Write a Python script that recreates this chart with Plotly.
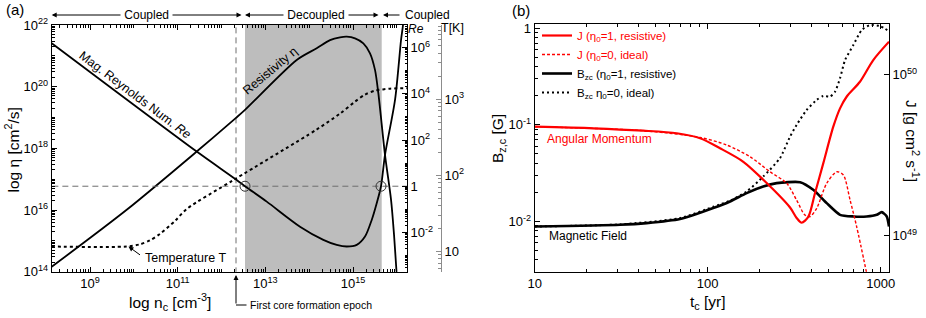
import numpy as np
import plotly.graph_objects as go

# ---------------- Panel (a): values read as log10 ----------------
eta_log_nc = [8.126, 9.837, 11.434, 12.331, 12.536, 13.716, 14.172, 14.476, 14.704, 14.857,
              15.046, 15.236, 15.388, 15.502, 15.578, 15.730, 15.868, 15.936, 15.993, 16.027]
eta_log_eta = [14.16, 16.008, 17.896, 18.988, 19.247, 20.866, 21.245, 21.51, 21.60, 21.622,
               21.569, 21.407, 21.083, 20.543, 19.788, 17.789, 16.332, 15.198, 14.0, 13.42]

re_log_nc = [8.126, 11.434, 12.347, 12.536, 13.032, 13.791, 14.323, 14.629, 14.857, 15.085,
             15.274, 15.427, 15.541, 15.639, 15.730, 15.959, 16.096, 16.141, 16.164]
re_log_re = [6.19, 1.50, 0.27, 0.0, -0.667, -1.75, -2.32, -2.54, -2.61, -2.54,
             -2.18, -1.46, -0.736, 0.0, 1.355, 3.736, 6.33, 6.98, 7.63]

temp_log_nc = [8.126, 9.837, 10.141, 10.369, 10.597, 10.939, 11.206, 12.269, 14.172, 14.704,
               15.046, 15.274, 15.502, 15.845, 16.232]
temp_log_T = [1.063, 1.063, 1.092, 1.144, 1.229, 1.399, 1.556, 1.935, 2.601, 2.810,
              2.967, 3.059, 3.111, 3.137, 3.144]

epoch_log_nc = 12.331
decoupled_log_nc = [12.536, 15.655]
re_unity_log_nc = [12.536, 15.639]

# ---------------- Panel (b): values read as log10 ----------------
b_res_log_t = [1.0, 1.493, 1.647, 1.840, 2.032, 2.129, 2.225, 2.321, 2.399, 2.534, 2.610,
               2.688, 2.765, 2.842, 2.919, 2.977, 3.006, 3.035, 3.048]
b_res_log_b = [-2.052, -2.034, -2.017, -1.975, -1.861, -1.793, -1.706, -1.638, -1.603, -1.593,
               -1.672, -1.810, -1.931, -1.948, -1.948, -1.931, -1.903, -1.948, -2.052]

b_ide_log_t = [1.0, 1.493, 1.840, 2.032, 2.129, 2.225, 2.321, 2.418, 2.476, 2.514, 2.572,
               2.630, 2.668, 2.707, 2.736, 2.765, 2.794, 2.842, 2.890, 2.938, 2.996, 3.048]
b_ide_log_b = [-2.052, -2.030, -1.965, -1.848, -1.785, -1.690, -1.535, -1.344, -1.121, -1.0,
               -0.845, -0.741, -0.700, -0.707, -0.656, -0.517, -0.328, -0.173, -0.018, 0.034,
               0.024, -0.03]

j_res_log_t = [1.0, 1.339, 1.628, 1.821, 1.956, 2.071, 2.206, 2.341, 2.476, 2.514, 2.543,
               2.582, 2.620, 2.668, 2.726, 2.765, 2.803, 2.880, 2.957, 3.048]
j_res_log_j = [49.676, 49.666, 49.651, 49.635, 49.604, 49.542, 49.458, 49.326, 49.174, 49.109,
               49.079, 49.117, 49.262, 49.448, 49.676, 49.790, 49.862, 49.955, 50.090, 50.204]

j_ide_log_t = [1.0, 1.628, 1.956, 2.110, 2.245, 2.360, 2.457, 2.514, 2.562, 2.591, 2.630,
               2.688, 2.746, 2.784, 2.823, 2.861, 2.919]
j_ide_log_j = [49.676, 49.651, 49.609, 49.562, 49.489, 49.396, 49.324, 49.220, 49.127, 49.117,
               49.169, 49.324, 49.396, 49.376, 49.220, 49.055, 48.765]

# tick label exponents
nc_label_exp = [9, 11, 13, 15]
eta_label_exp = [14, 16, 18, 20, 22]
re_label_exp = [-2, 0, 2, 4, 6]
temp_label_exp = [1, 2, 3]

# ---------------- helpers ----------------
W, H = 926, 318
FONT = "Liberation Sans, Arial, Helvetica, sans-serif"


def px(x):
    return x / W


def py(y):
    return 1 - y / H


def p10(k):
    if k == 0:
        return "1"
    if k == 1:
        return "10"
    return "10<sup>%d</sup>" % k


def lin(v):
    return [10.0 ** a for a in v]


def minor_vals(lo, hi, skip=()):
    vals = [m * 10.0 ** k for k in range(lo, hi) for m in range(2, 10)]
    vals += [10.0 ** k for k in range(lo, hi + 1) if k not in skip]
    return vals


def axis_common(**kw):
    d = dict(showline=True, linecolor="black", linewidth=1, ticks="inside", ticklen=5,
             tickcolor="black", showgrid=False, zeroline=False, automargin=False,
             tickfont=dict(size=13, color="black"))
    d.update(kw)
    return d


fig = go.Figure()

# ---------- panel (a) ----------
a0, a1 = decoupled_log_nc
fig.add_trace(go.Scatter(x=[10.0 ** a0, 10.0 ** a1, 10.0 ** a1, 10.0 ** a0, 10.0 ** a0],
                         y=[1e12, 1e12, 1e24, 1e24, 1e12], fill="toself",
                         fillcolor="#bdbdbd", line=dict(width=0), mode="lines",
                         xaxis="x", yaxis="y", showlegend=False, hoverinfo="skip"))
fig.add_trace(go.Scatter(x=[10.0 ** epoch_log_nc] * 2, y=[1e12, 1e24], mode="lines",
                         line=dict(color="#6e6e6e", width=1, dash="6px,4px"),
                         xaxis="x", yaxis="y", showlegend=False))
fig.add_trace(go.Scatter(x=lin(eta_log_nc), y=lin(eta_log_eta), mode="lines",
                         line=dict(color="black", width=1.8, shape="spline", smoothing=0.8),
                         xaxis="x", yaxis="y", showlegend=False))
fig.add_trace(go.Scatter(x=[1e7, 1e17], y=[1.0, 1.0], mode="lines",
                         line=dict(color="#6e6e6e", width=1, dash="6px,4px"),
                         xaxis="x", yaxis="y2", showlegend=False))
fig.add_trace(go.Scatter(x=lin(re_log_nc), y=lin(re_log_re), mode="lines",
                         line=dict(color="black", width=1.8, shape="spline", smoothing=0.8),
                         xaxis="x", yaxis="y2", showlegend=False))
fig.add_trace(go.Scatter(x=lin(re_unity_log_nc), y=[1.0, 1.0], mode="markers",
                         marker=dict(symbol="circle-open", size=10, color="#333333",
                                     line=dict(width=1)),
                         xaxis="x", yaxis="y2", showlegend=False))
fig.add_trace(go.Scatter(x=lin(temp_log_nc), y=lin(temp_log_T), mode="lines",
                         line=dict(color="black", width=2, dash="dot", shape="spline",
                                   smoothing=0.8),
                         xaxis="x", yaxis="y3", showlegend=False))

# ---------- panel (b) ----------
fig.add_trace(go.Scatter(x=lin(j_res_log_t), y=lin(j_res_log_j), mode="lines",
                         name='<span style="color:#ff0000">J (η<sub>0</sub>=1, resistive)</span>',
                         line=dict(color="#ff0000", width=2.2, shape="spline", smoothing=0.8),
                         xaxis="x2", yaxis="y5"))
fig.add_trace(go.Scatter(x=lin(j_ide_log_t), y=lin(j_ide_log_j), mode="lines",
                         name='<span style="color:#ff0000">J (η<sub>0</sub>=0, ideal)</span>',
                         line=dict(color="#ff0000", width=1.4, dash="3px,2px", shape="spline",
                                   smoothing=0.8),
                         xaxis="x2", yaxis="y5"))
fig.add_trace(go.Scatter(x=lin(b_res_log_t), y=lin(b_res_log_b), mode="lines",
                         name="B<sub>zc</sub> (η<sub>0</sub>=1, resistive)",
                         line=dict(color="black", width=2.6, shape="spline", smoothing=0.6),
                         xaxis="x2", yaxis="y4"))
fig.add_trace(go.Scatter(x=lin(b_ide_log_t), y=lin(b_ide_log_b), mode="lines",
                         name="B<sub>zc</sub> η<sub>0</sub>=0, ideal)",
                         line=dict(color="black", width=2, dash="2px,3px", shape="spline",
                                   smoothing=0.6),
                         xaxis="x2", yaxis="y4"))

# ---------- annotations ----------
ann = []


def text(x, y, s, size=12, color="black", xanchor="center", angle=0, bg=None):
    d = dict(x=px(x), y=py(y), xref="paper", yref="paper", text=s, showarrow=False,
             xanchor=xanchor, yanchor="middle", textangle=angle,
             font=dict(size=size, color=color, family=FONT))
    if bg:
        d["bgcolor"] = bg
        d["borderpad"] = 0
    ann.append(d)


def arrow(xh, yh, xt, yt, side="end"):
    ann.append(dict(x=px(xh), y=py(yh), xref="paper", yref="paper", text="",
                    showarrow=True, axref="pixel", ayref="pixel", ax=xt - xh, ay=yt - yh,
                    arrowhead=2, arrowsize=1, arrowwidth=1, arrowcolor="black",
                    arrowside=side, standoff=0, startstandoff=0))


# top regime arrows
arrow(51.7, 15, 243, 15, side="end+start")
text(146, 15, " Coupled ", bg="white")
arrow(245, 15, 380, 15, side="end+start")
text(316, 15, " Decoupled ", bg="white")
arrow(383, 15, 401, 15)
text(403, 15, "Coupled", xanchor="left")

text(15, 10, "(a)", size=15)
text(521, 11, "(b)", size=15)

text(135, 95, "Mag. Reynolds Num. <i>Re</i>", size=12.5, angle=37)
text(270, 71, "Resistivity η", size=12.5, angle=-40)
text(185, 258, "Temperature T", size=12.5)
arrow(128.5, 246.5, 141.5, 256)

# first core epoch
arrow(236, 275, 236, 305)
text(248, 305, "First core formation epoch", size=10.5, xanchor="left")

# right-axis labels panel (a)
text(416, 29, "<i>Re</i>", size=12)
text(452, 28, "T[K]", size=12.5)

# axis titles
text(12.5, 150, "log η [cm<sup>2</sup>/s]", size=15.5, angle=-90)
text(170, 302, "log n<sub>c</sub> [cm<sup>-3</sup>]", size=15.5)
text(498, 138, "B<sub>z,c</sub> [G]", size=15.5, angle=-90)
text(912, 141, "J [g cm<sup>2</sup> s<sup>-1</sup>]", size=15.5, angle=90)
text(708, 302, "t<sub>c</sub> [yr]", size=15.5)

text(545, 139, "Angular Momentum", size=12, color="#ff0000", xanchor="left")
text(547, 236, "Magnetic Field", size=12, xanchor="left")

shapes = [dict(type="line", xref="paper", yref="paper", x0=px(236), x1=px(246.5),
               y0=py(305), y1=py(305), line=dict(color="black", width=1))]

dom_ax = [px(51.7), px(407)]
dom_ay = [py(271.7), py(25)]
dom_bx = [px(534.7), px(889)]
dom_by = [py(271.7), py(24)]

fig.update_layout(
    width=W, height=H, margin=dict(l=0, r=0, t=0, b=0, pad=0, autoexpand=False),
    paper_bgcolor="white", plot_bgcolor="white",
    font=dict(family=FONT, size=12, color="black"),
    xaxis=axis_common(type="log", range=[8.126, 16.232], domain=dom_ax, anchor="y",
                      mirror="ticks",
                      tickvals=[10.0 ** k for k in nc_label_exp],
                      ticktext=[p10(k) for k in nc_label_exp],
                      minor=dict(ticks="inside", ticklen=3, tickcolor="black",
                                 tickvals=minor_vals(8, 17, nc_label_exp))),
    yaxis=axis_common(type="log", range=[14, 22], domain=dom_ay, anchor="x",
                      tickvals=[10.0 ** k for k in eta_label_exp],
                      ticktext=[p10(k) for k in eta_label_exp],
                      minor=dict(ticks="inside", ticklen=3, tickcolor="black",
                                 tickvals=minor_vals(14, 22, eta_label_exp))),
    yaxis2=axis_common(type="log", range=[-3.70, 6.98], overlaying="y", side="right",
                       anchor="x",
                       tickvals=[10.0 ** k for k in re_label_exp],
                       ticktext=[p10(k) for k in re_label_exp],
                       minor=dict(ticks="inside", ticklen=2.5, tickcolor="black",
                                  tickvals=minor_vals(-4, 7, re_label_exp))),
    yaxis3=axis_common(type="log", range=[0.732, 3.974], overlaying="y", side="right",
                       anchor="free", position=px(441), linecolor="#8c8c8c",
                       tickcolor="#8c8c8c",
                       tickvals=[10.0 ** k for k in temp_label_exp],
                       ticktext=[p10(k) for k in temp_label_exp],
                       minor=dict(ticks="inside", ticklen=3, tickcolor="#8c8c8c",
                                  tickvals=minor_vals(0, 4, temp_label_exp))),
    xaxis2=axis_common(type="log", range=[1, 3.048], domain=dom_bx, anchor="y4",
                       mirror="ticks",
                       tickvals=[10.0, 100.0, 1000.0], ticktext=["10", "100", "1000"],
                       minor=dict(ticks="inside", ticklen=3, tickcolor="black",
                                  tickvals=minor_vals(1, 4, [1, 2, 3]))),
    yaxis4=axis_common(type="log", range=[-2.52, 0.045], domain=dom_by, anchor="x2",
                       tickvals=[0.01, 0.1, 1.0],
                       ticktext=["10<sup>-2</sup>", "10<sup>-1</sup>", "1"],
                       minor=dict(ticks="inside", ticklen=3, tickcolor="black",
                                  tickvals=minor_vals(-3, 0, [-2, -1, 0]))),
    yaxis5=axis_common(type="log", range=[48.775, 50.314], overlaying="y4", side="right",
                       anchor="x2",
                       tickvals=[1e49, 1e50],
                       ticktext=["10<sup>49</sup>", "10<sup>50</sup>"]),
    showlegend=True,
    legend=dict(x=px(537), y=py(21), xanchor="left", yanchor="top",
                bgcolor="rgba(0,0,0,0)", borderwidth=0, itemwidth=30,
                font=dict(size=11.5, family=FONT, color="black"),
                tracegroupgap=0),
    annotations=ann,
    shapes=shapes,
)

fig.write_html("out.html", config={"displayModeBar": False},
               post_script="document.body.style.margin='0px';"
                           "document.body.style.padding='0px';")
